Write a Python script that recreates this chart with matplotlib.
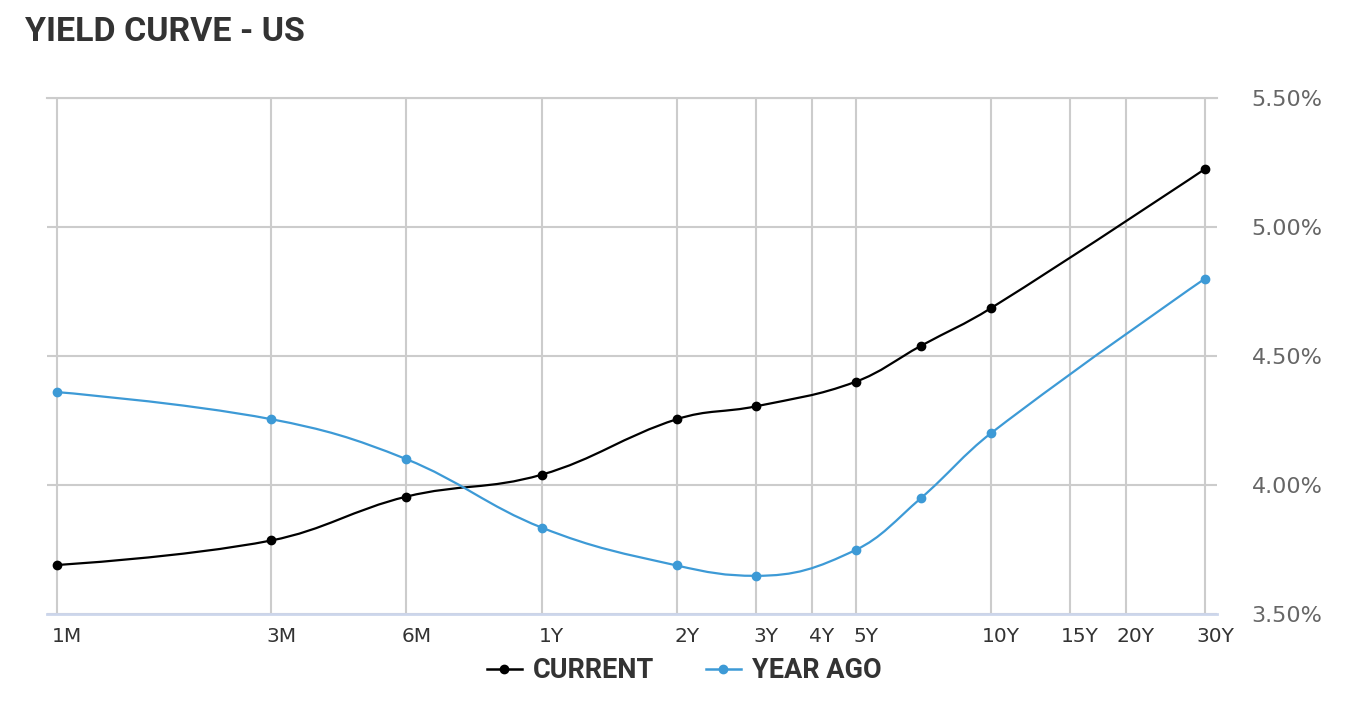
import numpy as np
import matplotlib
matplotlib.use("Agg")
from matplotlib import pyplot as plt
from matplotlib import font_manager
from matplotlib.path import Path
from matplotlib.patches import PathPatch
from matplotlib.lines import Line2D
from matplotlib.transforms import ScaledTranslation

# maturities in months
tick_months = [1, 3, 6, 12, 24, 36, 48, 60, 120, 180, 240, 360]
tick_labels = ["1M", "3M", "6M", "1Y", "2Y", "3Y", "4Y", "5Y", "10Y", "15Y", "20Y", "30Y"]

point_months = [1, 3, 6, 12, 24, 36, 60, 84, 120, 360]
current = [3.69, 3.785, 3.955, 4.04, 4.255, 4.305, 4.40, 4.54, 4.685, 5.225]
year_ago = [4.36, 4.255, 4.10, 3.835, 3.688, 3.648, 3.748, 3.95, 4.20, 4.80]

y_ticks = [3.5, 4.0, 4.5, 5.0, 5.5]
y_labels = ["3.50%", "4.00%", "4.50%", "5.00%", "5.50%"]

BLACK = "#000000"
BLUE = "#3d9ad6"
GRID = "#cccccc"
TEXT = "#333333"

have = {f.name for f in font_manager.fontManager.ttflist}
if "Liberation Sans Narrow" in have:
    cond_font = dict(family="Liberation Sans Narrow", weight="bold")
    title_size = 27.5
    legend_size = 21
else:
    cond_font = dict(family="Roboto", weight="bold")
    title_size = 24.5
    legend_size = 19.5


def spline_path(xs, ys):
    # highcharts style spline, computed in log-x space
    X = np.log(np.asarray(xs, float))
    Y = np.asarray(ys, float)
    n = len(X)
    smoothing = 1.5
    denom = smoothing + 1
    right = [None] * n
    verts = [(xs[0], ys[0])]
    codes = [Path.MOVETO]
    for i in range(1, n):
        px, py = X[i], Y[i]
        lcx, lcy = px, py
        if i < n - 1:
            lx, ly = X[i - 1], Y[i - 1]
            nx, ny = X[i + 1], Y[i + 1]
            lcx = (smoothing * px + lx) / denom
            lcy = (smoothing * py + ly) / denom
            rcx = (smoothing * px + nx) / denom
            rcy = (smoothing * py + ny) / denom
            corr = 0.0
            if rcx != lcx:
                corr = (rcy - lcy) * (rcx - px) / (rcx - lcx) + py - rcy
            lcy += corr
            rcy += corr
            if lcy > ly and lcy > py:
                lcy = max(ly, py)
                rcy = 2 * py - lcy
            elif lcy < ly and lcy < py:
                lcy = min(ly, py)
                rcy = 2 * py - lcy
            if rcy > ny and rcy > py:
                rcy = max(ny, py)
                lcy = 2 * py - rcy
            elif rcy < ny and rcy < py:
                rcy = min(ny, py)
                lcy = 2 * py - rcy
            right[i] = (rcx, rcy)
        prev = right[i - 1] if right[i - 1] is not None else (X[i - 1], Y[i - 1])
        verts += [(np.exp(prev[0]), prev[1]), (np.exp(lcx), lcy), (np.exp(px), py)]
        codes += [Path.CURVE4] * 3
    return Path(verts, codes)


fig = plt.figure(figsize=(13.66, 7.10), dpi=100)
ax = fig.add_axes([47 / 1366, 96 / 710, 1170 / 1366, 516 / 710])

ax.set_xscale("log")
ax.set_xlim(0.95, 382.8)
ax.set_ylim(3.5, 5.5)
ax.margins(0)

ax.set_xticks(tick_months)
ax.set_xticklabels(tick_labels)
ax.minorticks_off()
ax.set_yticks(y_ticks)
ax.set_yticklabels(y_labels)
ax.yaxis.tick_right()

ax.grid(True, color=GRID, lw=1.5, zorder=0)
ax.set_axisbelow(True)
for s in ax.spines.values():
    s.set_visible(False)
ax.axhline(3.5, color="#ccd6eb", lw=2, zorder=1, clip_on=False)
ax.axhline(5.5, color=GRID, lw=1.5, zorder=0.5, clip_on=False)

ax.tick_params(axis="x", length=0, pad=9, labelsize=14.5, labelcolor=TEXT)
ax.tick_params(axis="y", length=0, pad=25, labelsize=16, labelcolor="#666666")

offset = ScaledTranslation(10 / 100, 0, fig.dpi_scale_trans)
for lbl in ax.get_xticklabels():
    lbl.set_transform(lbl.get_transform() + offset)

ax.add_patch(PathPatch(spline_path(point_months, current), fill=False,
                       ec=BLACK, lw=1.6, zorder=3, clip_on=False))
ax.plot(point_months, current, "o", color=BLACK, ms=6, zorder=4, clip_on=False)

ax.add_patch(PathPatch(spline_path(point_months, year_ago), fill=False,
                       ec=BLUE, lw=1.6, zorder=5, clip_on=False))
ax.plot(point_months, year_ago, "o", color=BLUE, ms=6, zorder=6, clip_on=False)

fig.text(25 / 1366, 1 - 41 / 710, "YIELD CURVE - US", fontsize=title_size,
         color=TEXT, va="baseline", ha="left", **cond_font)

handles = [
    Line2D([], [], color=BLACK, lw=1.8, marker="o", ms=6),
    Line2D([], [], color=BLUE, lw=1.8, marker="o", ms=6),
]
leg = fig.legend(handles, ["CURRENT", "YEAR AGO"], loc="center",
                 bbox_to_anchor=(684 / 1366, 1 - 671 / 710), ncol=2,
                 frameon=False, handlelength=1.3, handletextpad=0.4,
                 columnspacing=1.9, prop=dict(size=legend_size, **cond_font))
for t in leg.get_texts():
    t.set_color(TEXT)

fig.savefig("out.png", dpi=100)
